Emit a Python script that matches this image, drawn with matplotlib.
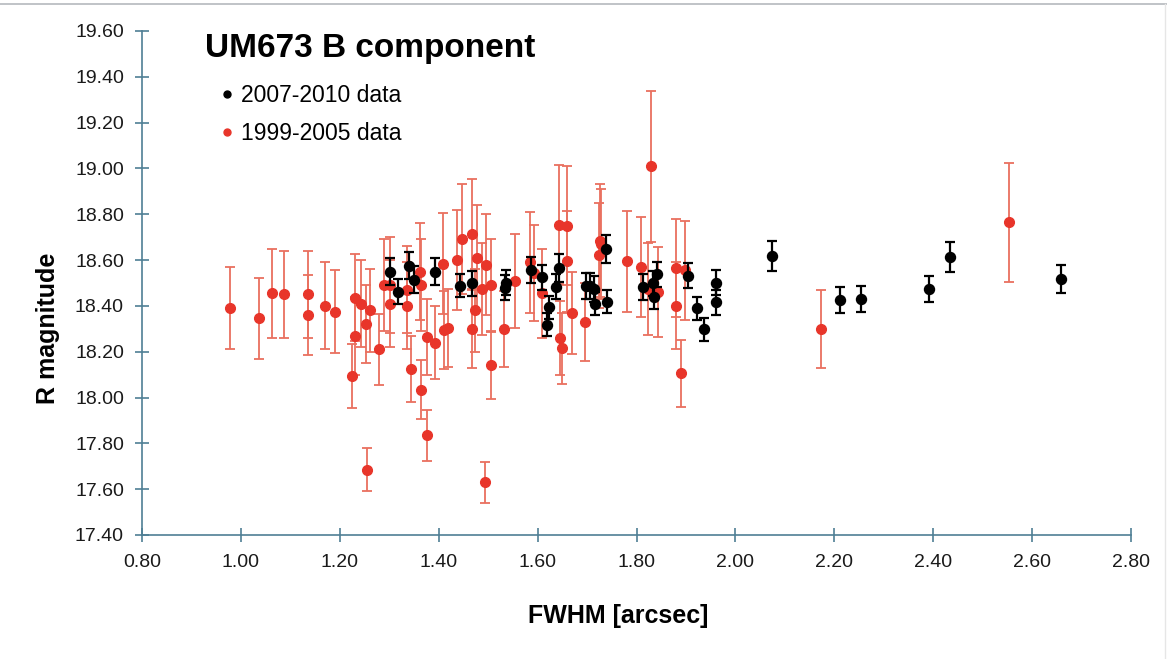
import matplotlib
matplotlib.use("Agg")
import matplotlib.pyplot as plt
from matplotlib.lines import Line2D

# 2007-2010 data (black)
new_fwhm = [1.301, 1.317, 1.339, 1.349, 1.393, 1.443, 1.467, 1.534, 1.537, 1.586,
            1.608, 1.618, 1.623, 1.637, 1.643, 1.698, 1.706, 1.713, 1.716, 1.738,
            1.740, 1.814, 1.834, 1.835, 1.841, 1.905, 1.923, 1.937, 1.961, 1.961,
            2.073, 2.212, 2.253, 2.391, 2.433, 2.658]
new_mag = [18.549, 18.462, 18.576, 18.514, 18.549, 18.487, 18.499, 18.480, 18.502, 18.557,
           18.525, 18.317, 18.394, 18.484, 18.565, 18.487, 18.487, 18.474, 18.410, 18.649,
           18.419, 18.482, 18.499, 18.440, 18.538, 18.532, 18.390, 18.298, 18.502, 18.416,
           18.618, 18.426, 18.430, 18.474, 18.613, 18.517]
new_err = [0.060, 0.055, 0.060, 0.058, 0.060, 0.050, 0.055, 0.055, 0.055, 0.055,
           0.055, 0.050, 0.050, 0.055, 0.060, 0.055, 0.055, 0.055, 0.050, 0.060,
           0.050, 0.055, 0.055, 0.055, 0.055, 0.055, 0.050, 0.050, 0.055, 0.055,
           0.065, 0.055, 0.055, 0.056, 0.065, 0.060]

# 1999-2005 data (red)
old_fwhm = [0.978, 1.037, 1.062, 1.087, 1.135, 1.135, 1.171, 1.191, 1.224, 1.231,
            1.231, 1.242, 1.253, 1.254, 1.262, 1.279, 1.290, 1.301, 1.301, 1.335,
            1.335, 1.344, 1.362, 1.364, 1.364, 1.376, 1.376, 1.393, 1.408, 1.411,
            1.419, 1.436, 1.447, 1.467, 1.467, 1.473, 1.478, 1.488, 1.494, 1.496,
            1.506, 1.506, 1.531, 1.555, 1.585, 1.593, 1.608, 1.643, 1.645, 1.650,
            1.659, 1.659, 1.669, 1.696, 1.725, 1.726, 1.729, 1.781, 1.809, 1.824,
            1.829, 1.844, 1.879, 1.879, 1.889, 1.898, 2.172, 2.553]
old_mag = [18.390, 18.345, 18.455, 18.450, 18.450, 18.360, 18.400, 18.375, 18.095, 18.435,
           18.270, 18.410, 18.320, 17.685, 18.380, 18.210, 18.490, 18.490, 18.410, 18.470,
           18.400, 18.125, 18.550, 18.490, 18.035, 18.265, 17.835, 18.240, 18.585, 18.295,
           18.305, 18.600, 18.690, 18.715, 18.300, 18.380, 18.610, 18.475, 17.630, 18.580,
           18.490, 18.140, 18.300, 18.510, 18.590, 18.545, 18.455, 18.755, 18.260, 18.215,
           18.750, 18.595, 18.370, 18.330, 18.620, 18.685, 18.670, 18.595, 18.570, 18.475,
           19.010, 18.460, 18.565, 18.400, 18.105, 18.555, 18.300, 18.765]
old_err = [0.180, 0.175, 0.195, 0.190, 0.190, 0.175, 0.190, 0.180, 0.140, 0.190,
           0.170, 0.190, 0.170, 0.095, 0.180, 0.155, 0.200, 0.210, 0.190, 0.190,
           0.190, 0.145, 0.210, 0.200, 0.130, 0.165, 0.110, 0.160, 0.220, 0.170,
           0.170, 0.220, 0.240, 0.240, 0.170, 0.180, 0.230, 0.200, 0.090, 0.220,
           0.200, 0.145, 0.165, 0.205, 0.220, 0.210, 0.195, 0.260, 0.160, 0.155,
           0.260, 0.220, 0.180, 0.170, 0.230, 0.245, 0.240, 0.220, 0.220, 0.200,
           0.330, 0.195, 0.215, 0.190, 0.145, 0.215, 0.170, 0.260]

x_ticks = [0.80, 1.00, 1.20, 1.40, 1.60, 1.80, 2.00, 2.20, 2.40, 2.60, 2.80]
y_ticks = [17.40, 17.60, 17.80, 18.00, 18.20, 18.40, 18.60, 18.80, 19.00, 19.20, 19.40, 19.60]

plt.rcParams["font.family"] = ["Liberation Sans", "DejaVu Sans"]

fig = plt.figure(figsize=(11.67, 6.59), dpi=100)
ax = fig.add_axes([0.1217, 0.1882, 0.8475, 0.7648])

red = "#e8352a"
red_bar = "#e9705f"
axis_col = "#4f7f95"

ax.errorbar(old_fwhm, old_mag, yerr=old_err, fmt="o", color=red, ms=7,
            ecolor=red_bar, elinewidth=1.3, capsize=3.8, capthick=1.3, zorder=2)
ax.errorbar(new_fwhm, new_mag, yerr=new_err, fmt="o", color="black", ms=7.2,
            ecolor="black", elinewidth=1.6, capsize=3.5, capthick=1.6, zorder=3)

ax.set_xlim(0.80, 2.80)
ax.set_ylim(17.40, 19.60)
ax.set_xticks(x_ticks)
ax.set_yticks(y_ticks)
ax.set_xticklabels([f"{v:.2f}" for v in x_ticks])
ax.set_yticklabels([f"{v:.2f}" for v in y_ticks])

for s in ["top", "right"]:
    ax.spines[s].set_visible(False)
for s in ["left", "bottom"]:
    ax.spines[s].set_color(axis_col)
    ax.spines[s].set_linewidth(1.2)
ax.tick_params(direction="inout", length=10, width=1.2, color=axis_col,
               labelsize=14, labelcolor="#1a1a1a")
ax.tick_params(axis="x", pad=9)
ax.tick_params(axis="y", pad=8)

ax.set_xlabel("FWHM [arcsec]", fontsize=18, fontweight="bold")
ax.xaxis.set_label_coords(0.481, -0.137)
ax.set_ylabel("R magnitude", fontsize=18, fontweight="bold")
ax.yaxis.set_label_coords(-0.083, 0.41)

ax.text(0.064, 0.995, "UM673 B component", transform=ax.transAxes,
        fontsize=24, fontweight="bold", va="top", ha="left")

handles = [Line2D([], [], ls="none", marker="o", color="black", ms=5),
           Line2D([], [], ls="none", marker="o", color=red, ms=5)]
ax.legend(handles, ["2007-2010 data", "1999-2005 data"], loc="upper left",
          bbox_to_anchor=(0.064, 0.927), frameon=False, fontsize=16.5,
          handlelength=0.5, handletextpad=0.35, labelspacing=0.68, borderpad=0.2)

# thin grey border on top and right of the figure
fig.add_artist(Line2D([0, 1], [0.994, 0.994], color="#b5b9bd", lw=1.2))
fig.add_artist(Line2D([0.998, 0.998], [0, 0.994], color="#e6e6e6", lw=1.0))

plt.savefig("out.png", dpi=100)
